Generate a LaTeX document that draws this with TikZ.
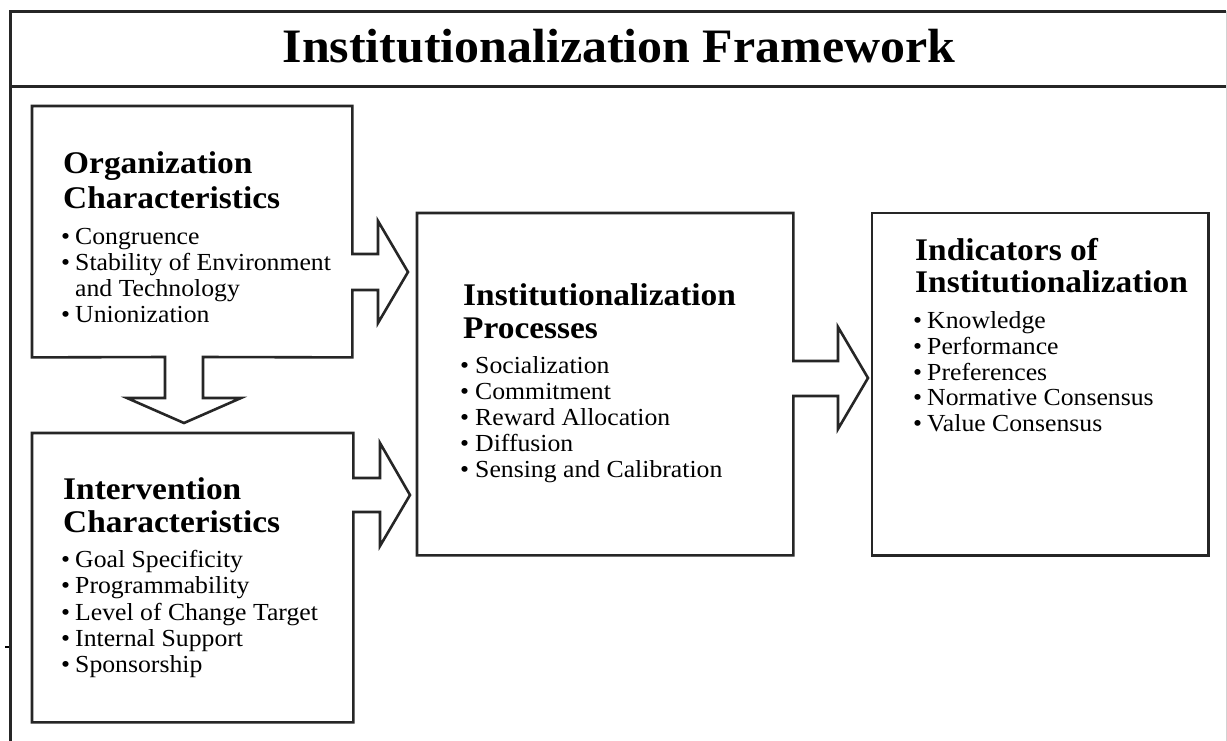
\documentclass[tikz,border=0pt]{standalone}
\usepackage{fontspec}
\setmainfont{Liberation Serif}
\newfontfamily\bfnt[FakeStretch=1.05]{Liberation Serif}
\newfontfamily\hfnt[FakeStretch=1.06]{Liberation Serif}
\newfontfamily\tfnt[FakeStretch=1.04]{Liberation Serif}
\usetikzlibrary{calc}
\begin{document}
\begin{tikzpicture}[x=1pt,y=-1pt,
  frame/.style={line width=3pt, draw=black!85},
  boxline/.style={line width=2.6pt, draw=black!85, line join=miter},
  boxn/.style={draw=none, inner sep=0, anchor=north west},
  head/.style={anchor=base west, inner sep=0, font=\hfnt\bfseries\fontsize{31.5}{31.5}\selectfont},
  item/.style={anchor=base west, inner sep=0, font=\bfnt\fontsize{24.5}{24.5}\selectfont},
  titlef/.style={anchor=base, inner sep=0, font=\tfnt\bfseries\fontsize{48}{48}\selectfont}]
\useasboundingbox (0,0) rectangle (1227,740);
\clip (0,0) rectangle (1227,740);
\fill[white] (0,0) rectangle (1227,740);

% outer frame and title box
\draw[frame] (10,760) -- (10,11) -- (1226,11);
\draw[frame] (10,86) -- (1226,86);
\draw[gray!35, line width=1pt] (1226,11) -- (1226,760);
\node[titlef] (title) at (619,62) {Institutionalization Framework};
\draw[line width=1.5pt] (5,647) -- (9,647);

% box placeholders
\node[boxn, minimum width=320pt, minimum height=251pt] (org) at (32,106) {};
\node[boxn, minimum width=321pt, minimum height=289pt] (int) at (32,433) {};
\node[boxn, minimum width=376pt, minimum height=342pt] (proc) at (417,213) {};
\node[boxn, minimum width=336pt, minimum height=342pt] (ind) at (872,213) {};

% arrow tips
\coordinate (tipA) at ($(proc.west |- 0,272)+(-9,0)$);
\coordinate (tipB) at ($(int.north -| 184,0)+(0,-10)$);
\coordinate (tipC) at ($(proc.west |- 0,495)+(-7,0)$);
\coordinate (tipD) at ($(ind.west |- 0,378)+(-4,0)$);

% organization box with two block arrows
\draw[boxline] (org.north west) -- (org.north east) -- (org.east |- 0,254) -- (378,254) -- (378,221)
  -- (tipA) -- (378,323) -- (378,290) -- (org.east |- 0,290) -- (org.south east)
  -- (203,357) -- (203,398) -- (241,398) -- (tipB) -- (127,398) -- (165,398) -- (165,357)
  -- (org.south west) -- cycle;

% intervention box with block arrow
\draw[boxline] (int.north west) -- (int.north east) -- (int.east |- 0,478) -- (380,478) -- (380,443)
  -- (tipC) -- (380,546) -- (380,512) -- (int.east |- 0,512) -- (int.south east)
  -- (int.south west) -- cycle;

% processes box with block arrow
\draw[boxline] (proc.north west) -- (proc.north east) -- (proc.east |- 0,361) -- (838,361) -- (838,327)
  -- (tipD) -- (838,429) -- (838,396) -- (proc.east |- 0,396) -- (proc.south east)
  -- (proc.south west) -- cycle;

% indicators box
\draw[boxline] (ind.north west) rectangle (ind.south east);

% Organization text
\node[head] (oh1) at (63,173) {Organization};
\node[head] (oh2) at (63,208) {Characteristics};
\node[item] (ob1) at (61,244) {\textbullet};
\node[item] (ot1) at (75,244) {Congruence};
\node[item] (ob2) at (61,270) {\textbullet};
\node[item] (ot2) at (75,270) {Stability of Environment};
\node[item] (ot3) at (75,296) {and Technology};
\node[item] (ob4) at (61,322) {\textbullet};
\node[item] (ot4) at (75,322) {Unionization};

% Intervention text
\node[head] (ih1) at (63,499) {Intervention};
\node[head] (ih2) at (63,532) {Characteristics};
\node[item] (ib1) at (61,567) {\textbullet};
\node[item] (it1) at (75,567) {Goal Specificity};
\node[item] (ib2) at (61,593) {\textbullet};
\node[item] (it2) at (75,593) {Programmability};
\node[item] (ib3) at (61,620) {\textbullet};
\node[item] (it3) at (75,620) {Level of Change Target};
\node[item] (ib4) at (61,646) {\textbullet};
\node[item] (it4) at (75,646) {Internal Support};
\node[item] (ib5) at (61,672) {\textbullet};
\node[item] (it5) at (75,672) {Sponsorship};

% Processes text
\node[head] (ph1) at (463,305) {Institutionalization};
\node[head] (ph2) at (463,338) {Processes};
\node[item] (pb1) at (460,373) {\textbullet};
\node[item] (pt1) at (475,373) {Socialization};
\node[item] (pb2) at (460,399) {\textbullet};
\node[item] (pt2) at (475,399) {Commitment};
\node[item] (pb3) at (460,425) {\textbullet};
\node[item] (pt3) at (475,425) {Reward Allocation};
\node[item] (pb4) at (460,451) {\textbullet};
\node[item] (pt4) at (475,451) {Diffusion};
\node[item] (pb5) at (460,477) {\textbullet};
\node[item] (pt5) at (475,477) {Sensing and Calibration};

% Indicators text
\node[head] (nh1) at (915,260) {Indicators of};
\node[head] (nh2) at (915,292) {Institutionalization};
\node[item] (nb1) at (913,328) {\textbullet};
\node[item] (nt1) at (927,328) {Knowledge};
\node[item] (nb2) at (913,354) {\textbullet};
\node[item] (nt2) at (927,354) {Performance};
\node[item] (nb3) at (913,380) {\textbullet};
\node[item] (nt3) at (927,380) {Preferences};
\node[item] (nb4) at (913,405) {\textbullet};
\node[item] (nt4) at (927,405) {Normative Consensus};
\node[item] (nb5) at (913,431) {\textbullet};
\node[item] (nt5) at (927,431) {Value Consensus};
\end{tikzpicture}
\end{document}
